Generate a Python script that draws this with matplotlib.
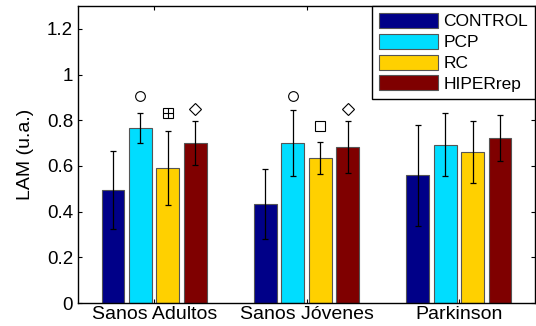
import numpy as np
from matplotlib import pyplot as plt

plt.rcParams["font.family"] = ["Liberation Sans", "DejaVu Sans"]

groups = ["Sanos Adultos", "Sanos Jóvenes", "Parkinson"]
series = ["CONTROL", "PCP", "RC", "HIPERrep"]
colors = ["#000088", "#00DDFF", "#FFD000", "#7F0000"]

# mean and error per series, one value per group
means = {
    "CONTROL": [0.495, 0.434, 0.559],
    "PCP": [0.766, 0.700, 0.693],
    "RC": [0.590, 0.634, 0.660],
    "HIPERrep": [0.700, 0.683, 0.721],
}
errors = {
    "CONTROL": [0.170, 0.153, 0.220],
    "PCP": [0.064, 0.146, 0.138],
    "RC": [0.162, 0.070, 0.135],
    "HIPERrep": [0.095, 0.115, 0.100],
}

# significance markers: (group, series, y, marker)
sig_marks = [
    (0, "PCP", 0.904, "o"),
    (0, "RC", 0.830, "s"),
    (0, "HIPERrep", 0.851, "D"),
    (1, "PCP", 0.904, "o"),
    (1, "RC", 0.775, "s"),
    (1, "HIPERrep", 0.851, "D"),
]

fig = plt.figure(figsize=(5.36, 3.26), dpi=100)
ax = fig.add_axes([78 / 536, 1 - 303 / 326, (535 - 78) / 536, (303 - 6) / 326])

x = np.arange(1, len(groups) + 1)
width = 0.15
step = 0.18
offsets = {s: (i - 1.5) * step for i, s in enumerate(series)}

for s, c in zip(series, colors):
    ax.bar(x + offsets[s], means[s], width, color=c, edgecolor="#555555",
           linewidth=0.8, label=s, zorder=2)
    ax.errorbar(x + offsets[s], means[s], yerr=errors[s], fmt="none",
                ecolor="black", elinewidth=0.9, capsize=2.2, capthick=0.9, zorder=3)

for g, s, y, m in sig_marks:
    ms = 7 if m != "D" else 6
    ax.plot(x[g] + offsets[s], y, marker=m, ms=ms, mfc="none", mec="black",
            mew=0.8, ls="none", zorder=4)
    if g == 0 and s == "RC":
        ax.plot(x[g] + offsets[s], y, marker="+", ms=7, mec="black",
                mew=0.8, ls="none", zorder=4)

ax.set_xlim(0.5, 3.5)
ax.set_ylim(0, 1.3)
ax.set_xticks(x)
ax.set_xticklabels(groups, fontsize=14)
ax.set_yticks(np.arange(0, 1.21, 0.2))
ax.set_yticklabels(["0", "0.2", "0.4", "0.6", "0.8", "1", "1.2"], fontsize=13.5)
ax.tick_params(direction="in", top=True, right=True, length=3)
ax.tick_params(axis="x", pad=2)
ax.set_ylabel("LAM (u.a.)", fontsize=14, labelpad=9)

for sp in ax.spines.values():
    sp.set_linewidth(1.0)

leg = ax.legend(loc="upper right", fontsize=12.5, handlelength=3.4,
                handleheight=0.95, borderaxespad=0, fancybox=False,
                edgecolor="black", framealpha=1, labelspacing=0.25,
                handletextpad=0.3, borderpad=0.4)
leg.get_frame().set_linewidth(1.0)

fig.savefig("out.png", dpi=100)
